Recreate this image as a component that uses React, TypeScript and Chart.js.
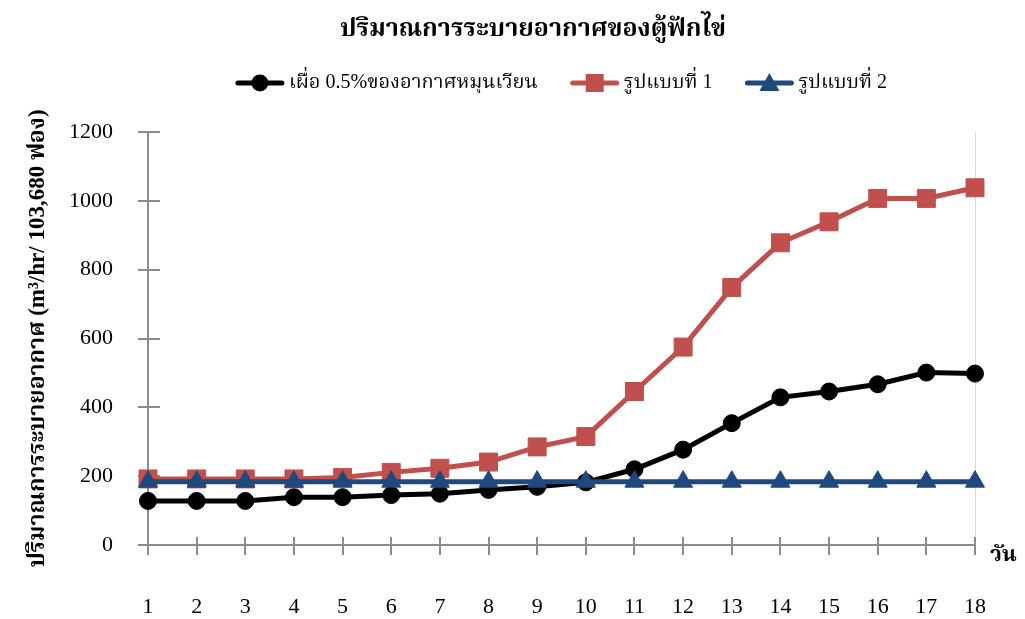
import React, { useEffect, useRef } from 'react';
import { Chart, registerables } from 'chart.js';

Chart.register(...registerables);

// Day numbers along the x axis
const days = ['1', '2', '3', '4', '5', '6', '7', '8', '9', '10', '11', '12', '13', '14', '15', '16', '17', '18'];

// Air ventilation (m³/hr per 103,680 eggs)
const ventilationReserve = [128, 128, 128, 139, 139, 145, 149, 160, 169, 182, 220, 277, 354, 429, 446, 467, 501, 498];
const designOne = [192, 192, 192, 192, 196, 211, 223, 241, 285, 315, 446, 575, 748, 878, 939, 1007, 1007, 1038];
const designTwo = [184, 184, 184, 184, 184, 184, 184, 184, 184, 184, 184, 184, 184, 184, 184, 184, 184, 184];

const seriesNames = ['เผื่อ 0.5%ของอากาศหมุนเวียน', 'รูปแบบที่ 1', 'รูปแบบที่ 2'];
const seriesColors = ['#000000', '#C0504D', '#1F497D'];
const seriesMarkers = ['circle', 'rect', 'triangle'];

const yMin = 0;
const yMax = 1200;
const yStep = 200;

const chartTitle = 'ปริมาณการระบายอากาศของตู้ฟักไข่';
const yTitle = 'ปริมาณการระบายอากาศ (m³/hr/ 103,680 ฟอง)';
const xUnit = 'วัน';

const FONT = '"Liberation Serif", "Times New Roman", "Noto Serif Thai", "Noto Sans Thai", Loma, Garuda, serif';
const AXIS_GREY = '#8c8c8c';

function drawMarker(ctx: CanvasRenderingContext2D, kind: string, x: number, y: number, color: string) {
  ctx.fillStyle = color;
  ctx.beginPath();
  if (kind === 'circle') {
    ctx.arc(x, y, 8.5, 0, Math.PI * 2);
  } else if (kind === 'rect') {
    ctx.rect(x - 9, y - 9, 18, 18);
  } else {
    ctx.moveTo(x, y - 10);
    ctx.lineTo(x + 10, y + 8);
    ctx.lineTo(x - 10, y + 8);
    ctx.closePath();
  }
  ctx.fill();
}

const decorations = {
  id: 'decorations',
  beforeDatasetsDraw(chart: any) {
    const { ctx, chartArea: a, scales } = chart;
    ctx.save();
    // faint frame line on the right edge of the plot
    ctx.strokeStyle = '#d9d9d9';
    ctx.lineWidth = 1;
    ctx.beginPath();
    ctx.moveTo(a.right + 0.5, a.top);
    ctx.lineTo(a.right + 0.5, a.bottom);
    ctx.stroke();
    // tick marks continue a little inside the plot
    ctx.strokeStyle = AXIS_GREY;
    ctx.lineWidth = 2;
    ctx.beginPath();
    scales.x.ticks.forEach((_: any, i: number) => {
      const px = Math.round(scales.x.getPixelForTick(i));
      ctx.moveTo(px, a.bottom - 8);
      ctx.lineTo(px, a.bottom);
    });
    scales.y.ticks.forEach((_: any, i: number) => {
      const py = Math.round(scales.y.getPixelForTick(i));
      ctx.moveTo(a.left, py);
      ctx.lineTo(a.left + 12, py);
    });
    ctx.stroke();
    ctx.restore();
  },
  afterDraw(chart: any) {
    const { ctx, chartArea: a } = chart;
    ctx.save();
    ctx.fillStyle = '#000';
    ctx.textBaseline = 'middle';

    // chart title
    ctx.font = `bold 25px ${FONT}`;
    ctx.textAlign = 'center';
    ctx.fillText(chartTitle, 533, 30);

    // legend: line + marker, then the series name
    ctx.font = `20px ${FONT}`;
    ctx.textAlign = 'left';
    const markerW = 48;
    const textGap = 5;
    const itemGap = 33;
    const widths = seriesNames.map((n) => markerW + textGap + ctx.measureText(n).width);
    const total = widths.reduce((s, w) => s + w, 0) + itemGap * (seriesNames.length - 1);
    let x = (a.left + a.right) / 2 - total / 2;
    const ly = 83;
    seriesNames.forEach((name, i) => {
      ctx.strokeStyle = seriesColors[i];
      ctx.lineWidth = 5;
      ctx.lineCap = 'round';
      ctx.beginPath();
      ctx.moveTo(x + 2, ly);
      ctx.lineTo(x + markerW - 2, ly);
      ctx.stroke();
      drawMarker(ctx, seriesMarkers[i], x + markerW / 2, ly, seriesColors[i]);
      ctx.fillStyle = '#000';
      ctx.fillText(name, x + markerW + textGap, ly);
      x += widths[i] + itemGap;
    });

    // x-axis unit
    ctx.font = `bold 22px ${FONT}`;
    ctx.textAlign = 'left';
    ctx.fillText(xUnit, a.right + 15, a.bottom + 10);
    ctx.restore();
  },
};

export default function App() {
  const canvasRef = useRef<HTMLCanvasElement | null>(null);

  useEffect(() => {
    const canvas = canvasRef.current;
    if (!canvas) return;

    const datasets = [ventilationReserve, designOne, designTwo].map((values, i) => ({
      label: seriesNames[i],
      data: values,
      borderColor: seriesColors[i],
      backgroundColor: seriesColors[i],
      pointBackgroundColor: seriesColors[i],
      pointBorderColor: seriesColors[i],
      borderWidth: 5,
      pointStyle: seriesMarkers[i],
      pointRadius: i === 0 ? 8.5 : i === 1 ? 12.7 : 11,
      pointBorderWidth: 1,
      tension: 0,
      order: 2 - i,
    }));

    const chart = new Chart(canvas, {
      type: 'line',
      data: { labels: days, datasets },
      options: {
        responsive: false,
        animation: false,
        layout: { padding: { top: 132, right: 47, bottom: 0, left: 0 } },
        plugins: {
          legend: { display: false },
          title: { display: false },
          tooltip: { enabled: false },
        },
        scales: {
          x: {
            type: 'category',
            offset: false,
            border: { color: AXIS_GREY, width: 2 },
            grid: { drawOnChartArea: false, color: AXIS_GREY, lineWidth: 2, tickLength: 10 },
            ticks: {
              color: '#000',
              font: { family: FONT, size: 22 },
              padding: 39,
              maxRotation: 0,
              autoSkip: false,
            },
            afterFit: (scale: any) => {
              scale.height = 74;
            },
          },
          y: {
            min: yMin,
            max: yMax,
            border: { color: AXIS_GREY, width: 2 },
            grid: { drawOnChartArea: false, color: AXIS_GREY, lineWidth: 2, tickLength: 10 },
            ticks: {
              stepSize: yStep,
              color: '#000',
              font: { family: FONT, size: 22 },
              padding: 25,
              callback: (value: any) => String(value),
            },
            title: {
              display: true,
              text: yTitle,
              color: '#000',
              font: { family: FONT, size: 23, weight: 'bold' },
              padding: { top: 24, bottom: 0 },
            },
            afterFit: (scale: any) => {
              scale.width = 148;
            },
          },
        },
      },
      plugins: [decorations],
    });

    return () => chart.destroy();
  }, []);

  return (
    <div style={{ position: 'fixed', left: 0, top: 0, width: 1025, height: 619, background: '#fff' }}>
      <canvas ref={canvasRef} width={1025} height={619} />
    </div>
  );
}
